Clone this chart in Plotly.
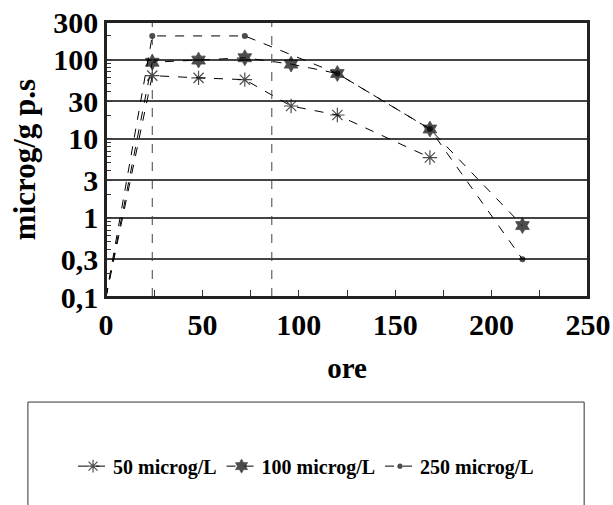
import plotly.graph_objects as go

# ---- data ----
hours = [0, 24, 48, 72, 96, 120, 168, 216]
s50 = [0.1, 63, 59, 56, 26, 20, 5.8, None]
s100 = [0.1, 93, 99, 106, 88, 67, 13.3, 0.8]
s250 = [0.1, 200, None, 200, None, 67, 13.3, 0.3]
series_names = ["50 microg/L", "100 microg/L", "250 microg/L"]
phase_x = [24, 86]
y_tickvals = [0.1, 0.3, 1, 3, 10, 30, 100, 300]
y_ticktext = ["0,1", "0,3", "1", "3", "10", "30", "100", "300"]
x_tickvals = [0, 50, 100, 150, 200, 250]

FONT = "Liberation Serif, Times New Roman, serif"

fig = go.Figure()

styles = [
    dict(symbol="asterisk-open", size=12, line=dict(width=1.2, color="black"), color="black"),
    dict(symbol="hexagram", size=12, line=dict(width=0.8, color="black"), color="black"),
    dict(symbol="circle", size=6, line=dict(width=0), color="black"),
]
for name, ys, st in zip(series_names, [s50, s100, s250], styles):
    sizes = [0 if h == 0 else st["size"] for h in hours]
    marker = dict(st)
    marker["size"] = sizes
    fig.add_trace(go.Scatter(
        x=hours, y=ys, name=name, mode="lines+markers",
        connectgaps=True,
        line=dict(color="black", width=1, dash="dash"),
        marker=marker,
    ))

for xv in phase_x:
    fig.add_vline(x=xv, line=dict(color="#444", width=1, dash="dash"))

# plot frame
fig.add_shape(type="rect", xref="paper", yref="paper", x0=0, x1=1, y0=0, y1=1,
              line=dict(color="#222", width=2), fillcolor="rgba(0,0,0,0)", layer="above")

# legend box
fig.add_shape(type="rect", xref="paper", yref="paper",
              x0=-0.162, x1=0.992, y0=-0.80, y1=-0.382,
              line=dict(color="#333", width=1), fillcolor="rgba(0,0,0,0)")

fig.update_layout(
    width=613, height=505,
    margin=dict(l=106, r=25, t=22, b=208, autoexpand=False),
    paper_bgcolor="white", plot_bgcolor="white",
    font=dict(family=FONT, color="black", size=30, weight="bold"),
    showlegend=True,
    legend=dict(orientation="h", x=0.415, xanchor="center",
                y=-0.615, yanchor="middle",
                font=dict(family=FONT, size=20, weight="bold", color="black"),
                bgcolor="rgba(0,0,0,0)", itemwidth=30, tracegroupgap=0),
)
fig.update_xaxes(
    range=[0, 250], tickvals=x_tickvals, automargin=False,
    ticks="inside", ticklen=7, tickcolor="#333",
    minor=dict(dtick=25, tick0=0, ticks="inside", ticklen=7, tickcolor="#333", showgrid=False),
    showgrid=False, showline=True, linecolor="#222", linewidth=1.5, mirror=True,
    tickfont=dict(family=FONT, size=30, weight="bold"),
    title=dict(text="ore", font=dict(family=FONT, size=29, weight="bold"), standoff=18),
    zeroline=False,
)
fig.update_yaxes(
    type="log", range=[-1, 2.4772], tickvals=y_tickvals, ticktext=y_ticktext, automargin=False,
    ticks="inside", ticklen=6, tickcolor="#333",
    minor=dict(ticks="inside", ticklen=5, tickcolor="#333", showgrid=False, dtick="D1"),
    showgrid=True, gridcolor="#444", gridwidth=1.5,
    showline=True, linecolor="#222", linewidth=1.5, mirror=True,
    tickfont=dict(family=FONT, size=30, weight="bold"),
    title=dict(text="microg/g p.s", font=dict(family=FONT, size=31, weight="bold"), standoff=8),
    zeroline=False,
)

fig.write_html("out.html", config={"displayModeBar": False},
               post_script="document.body.style.margin='0';")
